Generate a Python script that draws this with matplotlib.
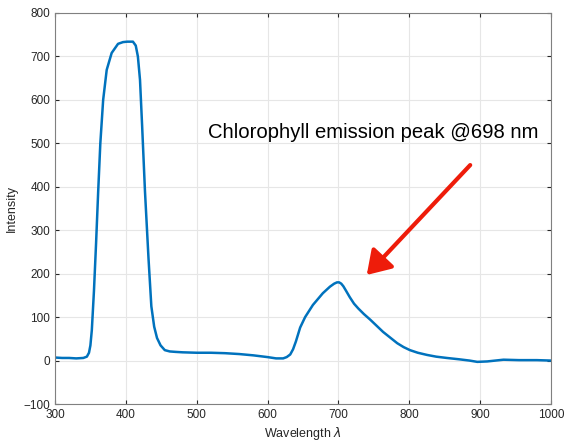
import numpy as np
import matplotlib.pyplot as plt

# spectrum
wavelength = [300, 310, 320, 330, 340, 345, 348, 350, 352, 355, 358, 361, 364, 368, 373,
              380, 389, 396, 402, 410, 414, 417, 420, 423, 427, 432, 436, 440, 444,
              449, 455, 462, 470, 480, 500, 520, 540, 560, 580, 600, 612, 622, 627, 632,
              636, 640, 646, 653, 664, 678, 688, 694, 698, 701, 704, 707, 711, 716, 722, 728,
              736, 745, 754, 763, 773, 783, 792, 801, 812, 825, 838, 853, 870, 885,
              896, 910, 933, 955, 980, 1000]
intensity = [7, 6, 6, 5, 6, 9, 18, 35, 70, 160, 270, 390, 500, 600, 669,
             708, 729, 733, 734, 734, 725, 700, 646, 540, 390, 235, 125, 78, 52,
             35, 24, 21, 20, 19, 18, 18, 17, 15, 12, 8, 5, 5, 8, 14,
             26, 44, 76, 100, 128, 155, 170, 177, 180, 180, 177, 171, 160, 146, 131, 120,
             107, 94, 80, 66, 53, 40, 31, 24, 18, 13, 9, 6, 3, 0,
             -3, -2, 2, 1, 1, 0]

xticks = np.arange(300, 1001, 100)
yticks = np.arange(-100, 801, 100)

plt.rcParams['font.family'] = ['Liberation Sans', 'DejaVu Sans']

fig = plt.figure(figsize=(5.65, 4.45), dpi=100)
ax = fig.add_axes([0.0973, 0.0921, 0.8779, 0.8787])

ax.plot(wavelength, intensity, color='#0072BD', lw=1.8)

ax.set_xlim(300, 1000)
ax.set_ylim(-100, 800)
ax.set_xticks(xticks)
ax.set_yticks(yticks)
ax.grid(True, color='#e6e6e6', lw=0.8)
ax.set_axisbelow(True)
ax.tick_params(direction='in', length=3, labelsize=8.5, colors='#262626',
               top=True, right=True, labeltop=False, labelright=False)
for s in ax.spines.values():
    s.set_color('#808080')
    s.set_linewidth(0.8)

ax.set_xlabel(r'Wavelength $\lambda$', fontsize=9, color='#262626', labelpad=3)
ax.set_ylabel('Intensity', fontsize=9, color='#262626', labelpad=4)

ax.text(516, 526, 'Chlorophyll emission peak @698 nm', fontsize=14.6,
        ha='left', va='center', color='black')
ax.annotate('', xy=(740, 197), xytext=(886, 450),
            arrowprops=dict(arrowstyle='-|>,head_length=1.4,head_width=0.9',
                            color='#ee1c0a', lw=3, shrinkA=0, shrinkB=0))

fig.savefig('out.png', dpi=100)
